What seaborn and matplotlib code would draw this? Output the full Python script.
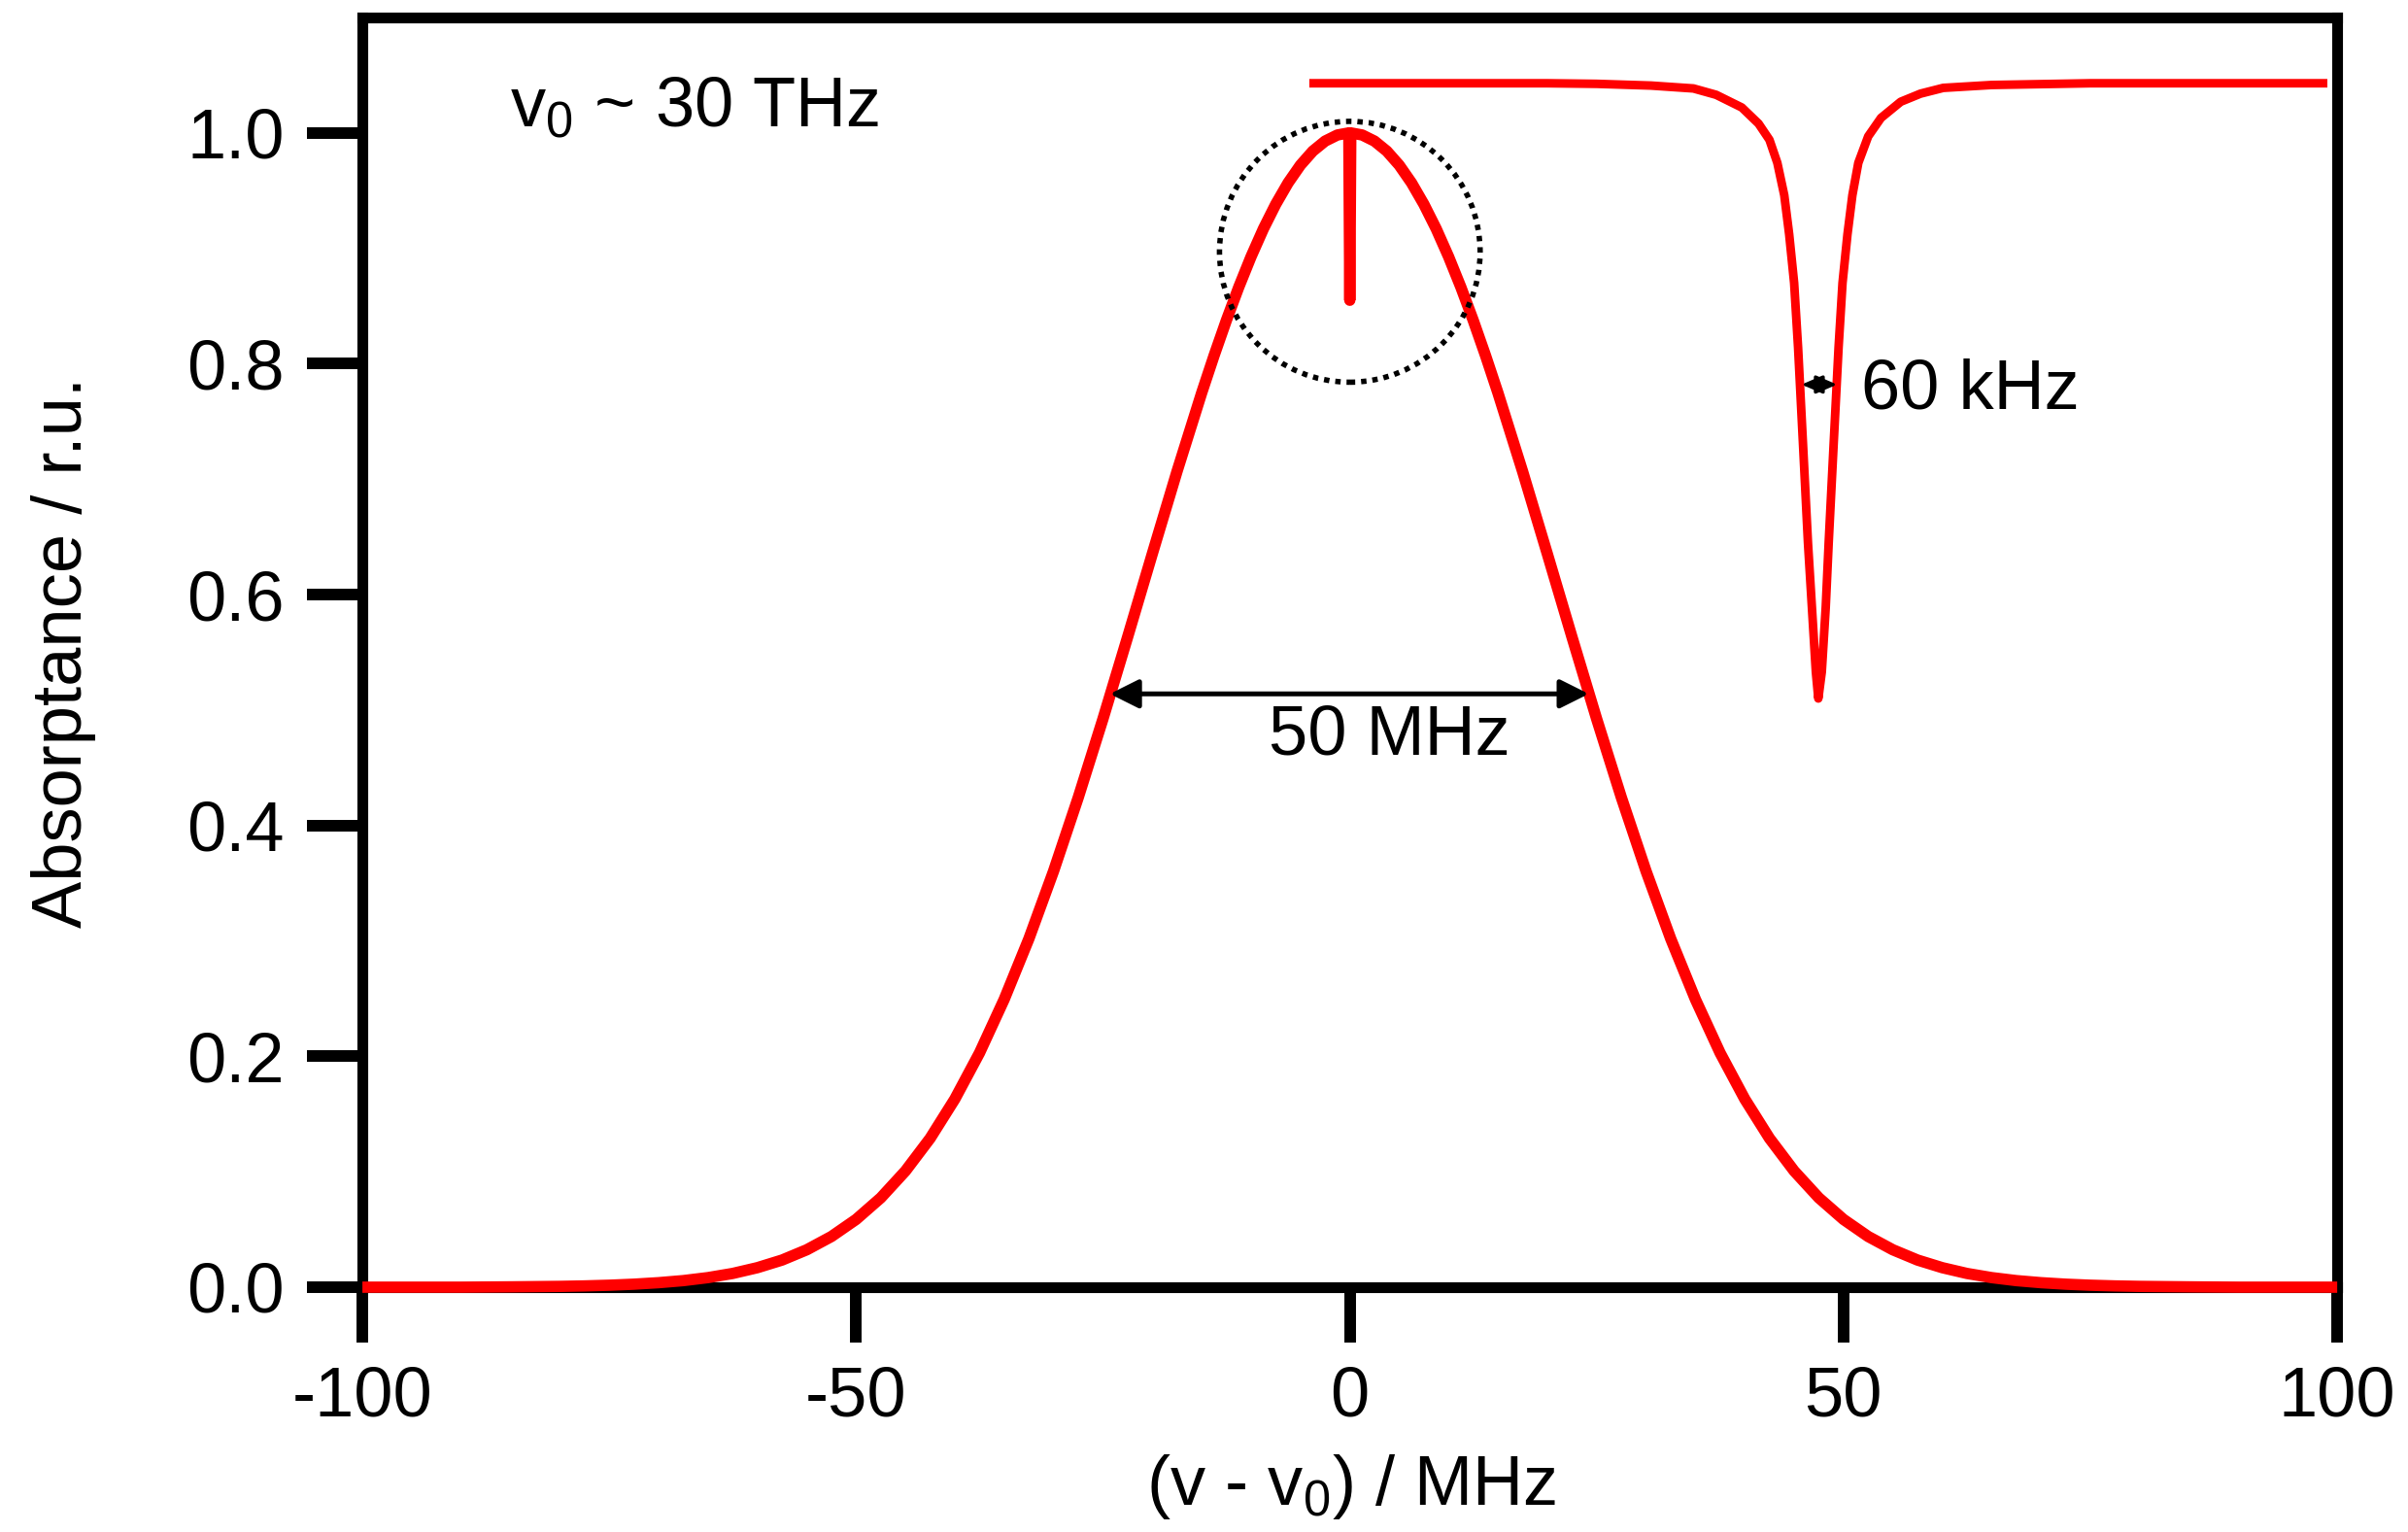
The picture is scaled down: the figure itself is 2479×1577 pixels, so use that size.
"""Gaussian (Doppler) line with a narrow Lorentzian dip, shown enlarged."""

import matplotlib
matplotlib.use("Agg")
import seaborn as sns
from matplotlib import pyplot as plt
from matplotlib.patches import Ellipse

###############################################################################
# Values

# broad line, x in MHz from line centre, absorptance in r.u.
gauss_x = [-100, -95, -90, -85, -80, -77.5, -75, -72.5, -70, -67.5, -65, -62.5,
           -60, -57.5, -55, -52.5, -50, -47.5, -45, -42.5, -40, -37.5, -35,
           -32.5, -30, -27.5, -25, -22.5, -20, -17.5, -15, -13.75, -12.5,
           -11.25, -10, -8.75, -7.5, -6.25, -5, -3.75, -2.5, -1.25, -0.1,
           0, 0.1, 1.25, 2.5, 3.75, 5, 6.25, 7.5, 8.75, 10, 11.25, 12.5, 13.75,
           15, 17.5, 20, 22.5, 25, 27.5, 30, 32.5, 35, 37.5, 40, 42.5, 45,
           47.5, 50, 52.5, 55, 57.5, 60, 62.5, 65, 67.5, 70, 72.5, 75, 77.5,
           80, 85, 90, 95, 100]
gauss_y = [0.0, 0.0, 0.0, 0.0003, 0.0007, 0.0011, 0.0017, 0.0026, 0.0039,
           0.0057, 0.0083, 0.0119, 0.0169, 0.0235, 0.0324, 0.0439, 0.0587,
           0.0774, 0.1007, 0.129, 0.163, 0.203, 0.2494, 0.3019, 0.3605,
           0.4243, 0.4923, 0.5633, 0.6354, 0.7067, 0.7748, 0.807, 0.8376,
           0.8663, 0.8928, 0.9169, 0.9382, 0.9567, 0.9721, 0.9842, 0.9929,
           0.9982, 1.0,
           0.855, 1.0, 0.9982, 0.9929, 0.9842, 0.9721, 0.9567, 0.9382,
           0.9169, 0.8928, 0.8663, 0.8376, 0.807, 0.7748, 0.7067, 0.6354,
           0.5633, 0.4923, 0.4243, 0.3605, 0.3019, 0.2494, 0.203, 0.163,
           0.129, 0.1007, 0.0774, 0.0587, 0.0439, 0.0324, 0.0235, 0.0169,
           0.0119, 0.0083, 0.0057, 0.0039, 0.0026, 0.0017, 0.0011, 0.0007,
           0.0003, 0.0, 0.0, 0.0]

# enlarged narrow dip, drawn on the same axes
dip_x = [-4.1, 10, 20, 25, 30.5, 34.8, 37.1, 39.7, 41.4, 42.5, 43.3, 44.0,
         44.5, 45.0, 45.4, 45.9, 46.4, 46.8, 47.2, 47.45, 47.8, 48.2, 48.5,
         49.0, 49.5, 49.9, 50.4, 50.9, 51.5, 52.5, 53.8, 55.8, 57.8, 60.1,
         65, 75, 90, 99]
dip_y = [1.043, 1.043, 1.043, 1.0425, 1.041, 1.0385, 1.033, 1.022, 1.008,
         0.994, 0.974, 0.946, 0.912, 0.870, 0.814, 0.73, 0.645, 0.589, 0.533,
         0.510, 0.533, 0.589, 0.645, 0.73, 0.814, 0.870, 0.912, 0.946, 0.974,
         0.997, 1.013, 1.027, 1.034, 1.039, 1.0415, 1.043, 1.043, 1.043]

x_ticks = [-100, -50, 0, 50, 100]
y_ticks = [0.0, 0.2, 0.4, 0.6, 0.8, 1.0]

###############################################################################
# Style

sns.set_style("ticks")
plt.rcParams["font.family"] = ["Liberation Sans", "DejaVu Sans"]
plt.rcParams["mathtext.fontset"] = "custom"
plt.rcParams["mathtext.rm"] = "Liberation Sans"
plt.rcParams["mathtext.it"] = "Liberation Sans:italic"
plt.rcParams["mathtext.default"] = "regular"
plt.rcParams["axes.unicode_minus"] = False
plt.rcParams["text.color"] = "black"
plt.rcParams["axes.labelcolor"] = "black"
plt.rcParams["xtick.color"] = "black"
plt.rcParams["ytick.color"] = "black"

fig = plt.figure(figsize=(12.395, 7.885), dpi=200)
ax = fig.add_axes([0.1505, 0.1598, 0.8201, 0.8288])

sns.lineplot(x=gauss_x, y=gauss_y, ax=ax, color="#ff0000", linewidth=4.2,
             sort=False, estimator=None, clip_on=False,
             solid_capstyle="butt", zorder=3)
sns.lineplot(x=dip_x, y=dip_y, ax=ax, color="#ff0000", linewidth=3.2,
             sort=False, estimator=None, clip_on=False,
             solid_capstyle="butt", zorder=3)

# dotted circle around the peak
ax.add_patch(Ellipse((0, 0.897), width=26.4, height=0.226, fill=False,
                     edgecolor="black", linewidth=2.0,
                     linestyle=(0, (1, 1.1)), zorder=4))

# width markers
ax.annotate("", xy=(-24.3, 0.514), xytext=(24.2, 0.514),
            arrowprops=dict(arrowstyle="<|-|>,head_length=0.9,head_width=0.45",
                            color="black", lw=1.8, shrinkA=0, shrinkB=0))
ax.text(3.97, 0.462, "50 MHz", fontsize=26, ha="center", va="baseline")

ax.annotate("", xy=(45.75, 0.782), xytext=(49.35, 0.782),
            arrowprops=dict(arrowstyle="<|-|>,head_length=0.65,head_width=0.28",
                            color="black", lw=1.2, shrinkA=0, shrinkB=0))
ax.text(51.8, 0.761, "60 kHz", fontsize=26, ha="left", va="baseline")

ax.text(-85.1, 1.006, "v$_0$ ~ 30 THz", fontsize=26, ha="left", va="baseline")

###############################################################################
# Axes

ax.set_xlim(-100, 100)
ax.set_ylim(0, 1.10)
ax.set_xticks(x_ticks)
ax.set_xticklabels([str(v) for v in x_ticks])
ax.set_yticks(y_ticks)
ax.set_yticklabels([f"{v:.1f}" for v in y_ticks])

for side in ["left", "right", "top", "bottom"]:
    ax.spines[side].set_visible(True)
    ax.spines[side].set_linewidth(4.0)
    ax.spines[side].set_color("black")

ax.tick_params(axis="both", direction="out", length=20.5, width=4.3,
               labelsize=26, pad=8.5, color="black", labelcolor="black")

ax.set_xlabel("(v - v$_0$) / MHz", fontsize=26)
ax.set_ylabel("Absorptance / r.u.", fontsize=26)
ax.xaxis.set_label_coords(0.5007, -0.13)
ax.yaxis.set_label_coords(-0.135, 0.5)

fig.savefig("out.png", dpi=200)
